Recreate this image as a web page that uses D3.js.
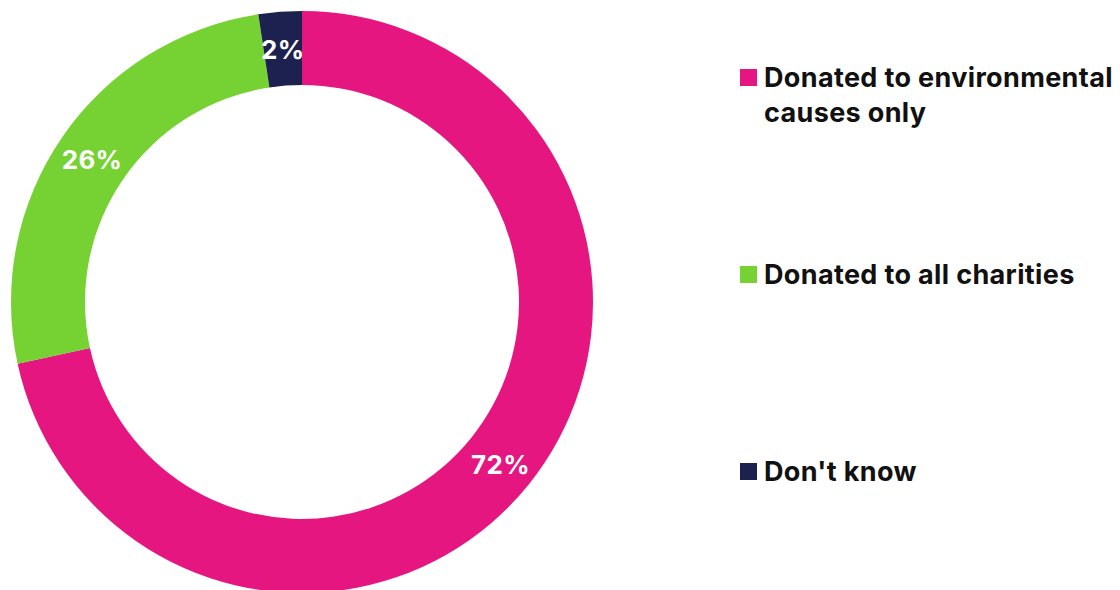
<!DOCTYPE html>
<html>
<head>
<meta charset="utf-8">
<script src="https://cdn.jsdelivr.net/npm/d3@7"></script>
<style>
  body { margin: 0; background: #fff; }
  text { font-family: Inter, "Noto Sans", sans-serif; font-weight: 700; }
</style>
</head>
<body>
<div id="chart"></div>
<script>
var categories = ["Donated to environmental causes only", "Donated to all charities", "Don't know"];
var values = [71.6, 26.0, 2.4];
var valueLabels = ["72%", "26%", "2%"];
var legendLines = [["Donated to environmental", "causes only"], ["Donated to all charities"], ["Don't know"]];
var colors = ["#e5167f", "#76d232", "#1c2150"];

var svgWidth = 1120;
var svgHeight = 590;

var svg = d3.select("#chart")
    .append("svg")
    .attr("width", svgWidth)
    .attr("height", svgHeight);

var outerR = 291;
var innerR = 217;

var chartGroup = svg.append("g")
    .attr("transform", "translate(302, 302)");

var rows = categories.map(function(c, i) {
    return { name: c, value: values[i], label: valueLabels[i], color: colors[i] };
});

var pie = d3.pie()
    .sort(null)
    .value(d => d.value);

var arc = d3.arc()
    .innerRadius(innerR)
    .outerRadius(outerR);

var labelArc = d3.arc()
    .innerRadius(255)
    .outerRadius(255);

// slices
chartGroup.selectAll("path")
    .data(pie(rows))
    .enter()
    .append("path")
    .attr("d", arc)
    .attr("fill", d => d.data.color);

// slice labels
chartGroup.selectAll(".slice-label")
    .data(pie(rows))
    .enter()
    .append("text")
    .attr("class", "slice-label")
    .attr("transform", d => `translate(${labelArc.centroid(d)})`)
    .attr("dy", "0.45em")
    .style("text-anchor", "middle")
    .style("font-size", "26px")
    .style("letter-spacing", "0.3px")
    .style("fill", "white")
    .text(d => d.data.label);

// legend
var legendY = d3.scalePoint()
    .domain(categories)
    .range([87, 481]);

var legend = svg.selectAll(".legend")
    .data(rows)
    .enter()
    .append("g")
    .attr("class", "legend")
    .attr("transform", d => `translate(740, ${legendY(d.name)})`);

legend.append("rect")
    .attr("x", 0)
    .attr("y", -18)
    .attr("width", 17)
    .attr("height", 17)
    .attr("fill", d => d.color);

legend.append("text")
    .attr("x", 24)
    .attr("y", 0)
    .style("font-size", "27px")
    .style("letter-spacing", "0.35px")
    .style("fill", "#111")
    .selectAll("tspan")
    .data((d, i) => legendLines[i])
    .enter()
    .append("tspan")
    .attr("x", 24)
    .attr("dy", (d, i) => i === 0 ? 0 : 35)
    .text(d => d);
</script>
</body>
</html>
